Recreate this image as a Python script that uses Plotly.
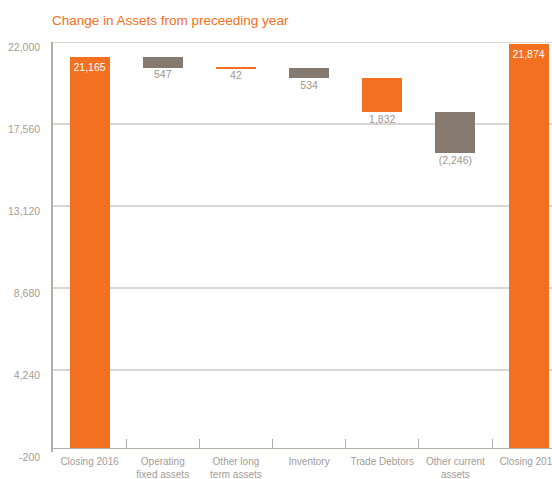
import plotly.graph_objects as go

categories = ["Closing 2016", "Operating<br>fixed assets", "Other long<br>term assets",
              "Inventory", "Trade Debtors", "Other current<br>assets", "Closing 2017"]
values = [21165, 547, 42, 534, 1832, -2246, 21874]
labels = ["21,165", "547", "42", "534", "1,832", "(2,246)", "21,874"]
kinds = ["total", "delta", "delta", "delta", "delta", "delta", "total"]
ytick_vals = [-200, 4240, 8680, 13120, 17560, 22000]
ytick_text = ["-200", "4,240", "8,680", "13,120", "17,560", "22,000"]

ORANGE = "#f37021"
GRAY = "#857970"
TXT = "#a39d97"
LINE = "#b3ada7"
FONT = "Liberation Sans, Arial, sans-serif"

# floating bars as drawn in the reference (each change stepped downward)
bases, heights, label_y, label_col = [], [], [], []
running = None
for v, k in zip(values, kinds):
    if k == "total":
        bases.append(0)
        heights.append(v)
        running = v
        label_y.append(v - 300)
        label_col.append("#ffffff")
    else:
        b = running - abs(v)
        bases.append(b)
        heights.append(abs(v))
        running = b
        label_y.append(b - 150)
        label_col.append("#9c968f")
colors = [ORANGE if i % 2 == 0 else GRAY for i in range(len(values))]

fig = go.Figure()
fig.add_trace(go.Bar(x=categories, y=heights, base=bases, marker_color=colors,
                     marker_line_width=0, width=0.546, hoverinfo="skip"))
fig.add_trace(go.Scatter(x=categories, y=label_y, text=labels, mode="text",
                         textposition="bottom center",
                         textfont=dict(color=label_col, size=10.5, family=FONT),
                         hoverinfo="skip", cliponaxis=False))

for v in ytick_vals[1:]:
    fig.add_shape(type="line", xref="paper", x0=0, x1=1, yref="y", y0=v, y1=v,
                  line=dict(color=LINE, width=1.2), layer="below")

fig.update_layout(
    width=552, height=479,
    margin=dict(l=53, r=0, t=42, b=27, autoexpand=False),
    paper_bgcolor="white", plot_bgcolor="white",
    showlegend=False, hovermode=False, bargap=0,
    font=dict(family=FONT, size=10, color=TXT),
    title=dict(text="Change in Assets from preceeding year", x=52 / 552, xanchor="left",
               xref="container", yref="container", y=1 - 20 / 479, yanchor="middle",
               font=dict(color=ORANGE, size=13.5)),
    xaxis=dict(range=[-0.5, 6.32], showgrid=False, showline=True, linecolor=LINE,
               linewidth=1.2, ticks="inside", tickson="boundaries", ticklen=9,
               tickcolor=LINE, tickwidth=1.2, anchor="free", position=200 / 22200,
               tickangle=0, automargin=False,
               tickfont=dict(size=10, color=TXT), ticklabelstandoff=4, fixedrange=True),
    yaxis=dict(range=[-200, 22000], tickvals=ytick_vals, ticktext=ytick_text,
               showgrid=False, zeroline=False, showline=True, linecolor=LINE,
               linewidth=1.5, ticks="", tickfont=dict(size=10.5, color=TXT), automargin=False,
               ticklabelstandoff=9, ticklabelshift=5, fixedrange=True),
)

fig.write_html("out.html", config={"displayModeBar": False})
